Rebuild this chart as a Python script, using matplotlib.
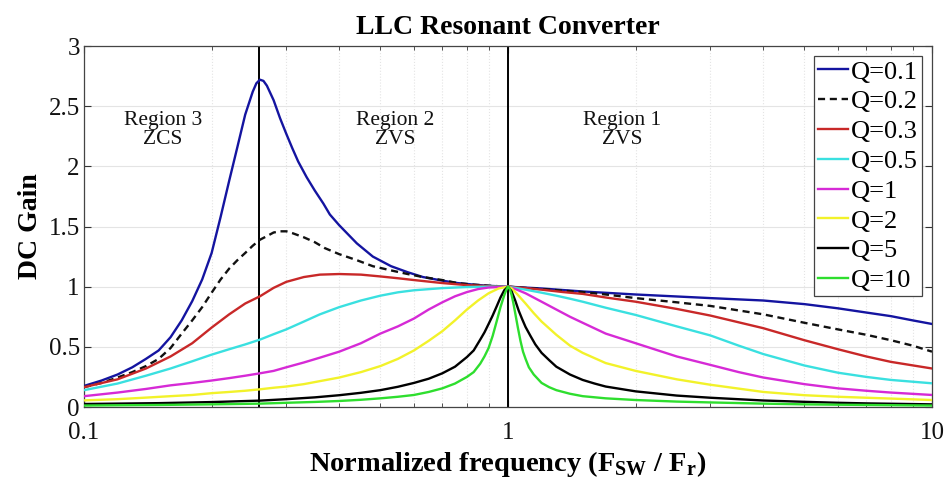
import matplotlib
matplotlib.use("Agg")
import matplotlib.pyplot as plt
from matplotlib.ticker import NullFormatter, LogLocator

plt.rcParams['font.family'] = ['Liberation Serif', 'DejaVu Serif']
plt.rcParams['mathtext.fontset'] = 'custom'
plt.rcParams['mathtext.rm'] = 'Liberation Serif'
plt.rcParams['mathtext.bf'] = 'Liberation Serif:bold'

# ---- data ----
f_q01 = [0.10, 0.11, 0.12, 0.13, 0.14, 0.15, 0.16, 0.17, 0.18, 0.19,
         0.20, 0.21, 0.22, 0.23, 0.24, 0.25, 0.255, 0.26, 0.265, 0.27,
         0.28, 0.29, 0.30, 0.31, 0.32, 0.335, 0.35, 0.367, 0.38, 0.40,
         0.44, 0.48, 0.53, 0.58, 0.63, 0.70, 0.76, 0.83, 0.90, 1.0,
         1.2, 1.5, 2.0, 3.0, 4.0, 5.0, 6.0, 7.0, 8.0, 9.0, 10.0]
g_q01 = [0.175, 0.22, 0.27, 0.33, 0.40, 0.47, 0.58, 0.72, 0.88, 1.06,
         1.28, 1.58, 1.88, 2.16, 2.43, 2.62, 2.69, 2.72, 2.71, 2.67,
         2.55, 2.40, 2.27, 2.15, 2.04, 1.91, 1.80, 1.69, 1.60, 1.51,
         1.36, 1.25, 1.17, 1.12, 1.08, 1.05, 1.03, 1.017, 1.007, 1.0,
         0.985, 0.96, 0.935, 0.905, 0.885, 0.855, 0.82, 0.785, 0.755, 0.72, 0.69]

f_q02 = [0.10, 0.11, 0.12, 0.13, 0.14, 0.15, 0.16, 0.17, 0.18, 0.19,
         0.20, 0.21, 0.22, 0.23, 0.24, 0.25, 0.26, 0.27, 0.28, 0.29,
         0.30, 0.31, 0.33, 0.35, 0.37, 0.40, 0.44, 0.48, 0.53, 0.58,
         0.63, 0.70, 0.76, 0.82, 0.90, 1.0,
         1.2, 1.5, 1.7, 2.0, 2.5, 3.0, 4.0, 5.0, 6.0, 7.0, 8.0, 9.0, 10.0]
g_q02 = [0.165, 0.20, 0.245, 0.29, 0.34, 0.40, 0.49, 0.61, 0.72, 0.83,
         0.95, 1.06, 1.15, 1.22, 1.28, 1.34, 1.39, 1.42, 1.45, 1.46,
         1.46, 1.445, 1.41, 1.37, 1.32, 1.27, 1.22, 1.17, 1.135, 1.105,
         1.08, 1.055, 1.03, 1.018, 1.008, 1.0,
         0.98, 0.955, 0.935, 0.905, 0.87, 0.84, 0.77, 0.70, 0.645, 0.60, 0.555, 0.51, 0.46]

f_q03 = [0.10, 0.12, 0.14, 0.16, 0.18, 0.20, 0.22, 0.24, 0.26, 0.28,
         0.30, 0.33, 0.36, 0.40, 0.45, 0.50, 0.55, 0.60, 0.70, 0.80,
         0.90, 1.0, 1.1, 1.2, 1.35, 1.5, 1.7, 2.0, 2.5, 3.0,
         4.0, 5.0, 6.0, 7.0, 8.0, 10.0]
g_q03 = [0.165, 0.23, 0.32, 0.42, 0.53, 0.66, 0.77, 0.86, 0.92, 0.99,
         1.04, 1.08, 1.10, 1.105, 1.10, 1.085, 1.07, 1.055, 1.03, 1.013,
         1.004, 1.0, 0.988, 0.975, 0.955, 0.94, 0.91, 0.875, 0.815, 0.76,
         0.655, 0.555, 0.48, 0.42, 0.375, 0.32]

f_q05 = [0.10, 0.12, 0.14, 0.16, 0.18, 0.20, 0.22, 0.24, 0.26, 0.28,
         0.30, 0.33, 0.36, 0.40, 0.45, 0.50, 0.55, 0.60, 0.70, 0.80,
         0.90, 1.0, 1.1, 1.2, 1.3, 1.4, 1.5, 1.7, 2.0, 2.5,
         3.0, 3.5, 4.0, 5.0, 6.0, 7.0, 8.0, 10.0]
g_q05 = [0.14, 0.195, 0.26, 0.32, 0.38, 0.435, 0.48, 0.52, 0.56, 0.605,
         0.645, 0.71, 0.77, 0.83, 0.885, 0.925, 0.953, 0.97, 0.988, 0.997,
         1.0, 1.0, 0.975, 0.95, 0.925, 0.90, 0.875, 0.825, 0.765, 0.67,
         0.595, 0.51, 0.44, 0.345, 0.285, 0.25, 0.225, 0.197]

f_q1 = [0.10, 0.12, 0.14, 0.16, 0.18, 0.20, 0.22, 0.24, 0.26, 0.28,
        0.30, 0.33, 0.36, 0.40, 0.45, 0.50, 0.55, 0.60, 0.65, 0.70,
        0.75, 0.80, 0.85, 0.90, 1.0, 1.05, 1.1, 1.2, 1.3, 1.4,
        1.5, 1.7, 2.0, 2.5, 3.0, 3.5, 4.0, 5.0, 6.0, 7.0, 8.0, 10.0]
g_q1 = [0.09, 0.12, 0.15, 0.18, 0.20, 0.22, 0.24, 0.26, 0.28, 0.30,
        0.33, 0.37, 0.41, 0.46, 0.53, 0.61, 0.67, 0.735, 0.81, 0.87,
        0.92, 0.955, 0.98, 0.993, 1.0, 0.975, 0.945, 0.875, 0.81, 0.75,
        0.70, 0.61, 0.53, 0.42, 0.35, 0.29, 0.245, 0.19, 0.155, 0.135, 0.12, 0.10]

f_q2 = [0.10, 0.12, 0.14, 0.16, 0.18, 0.20, 0.22, 0.24, 0.26, 0.28,
        0.30, 0.33, 0.36, 0.40, 0.45, 0.50, 0.55, 0.60, 0.65, 0.70,
        0.75, 0.80, 0.85, 0.90, 0.95, 1.0, 1.02, 1.05, 1.1, 1.15,
        1.2, 1.3, 1.4, 1.5, 1.7, 2.0, 2.5, 3.0, 4.0, 5.0,
        6.0, 7.0, 8.0, 10.0]
g_q2 = [0.055, 0.065, 0.078, 0.09, 0.10, 0.115, 0.125, 0.135, 0.147, 0.16,
        0.17, 0.19, 0.215, 0.245, 0.29, 0.34, 0.40, 0.47, 0.55, 0.63,
        0.72, 0.81, 0.885, 0.945, 0.985, 1.0, 0.985, 0.94, 0.86, 0.78,
        0.71, 0.60, 0.51, 0.45, 0.365, 0.30, 0.23, 0.185, 0.125, 0.098,
        0.085, 0.077, 0.07, 0.058]

f_q5 = [0.10, 0.15, 0.20, 0.26, 0.30, 0.35, 0.40, 0.45, 0.50, 0.55,
        0.60, 0.65, 0.70, 0.75, 0.80, 0.83, 0.86, 0.88, 0.90, 0.92,
        0.94, 0.96, 0.98, 1.0, 1.02, 1.04, 1.06, 1.08, 1.1, 1.13,
        1.16, 1.2, 1.25, 1.3, 1.4, 1.5, 1.6, 1.7, 2.0, 2.5,
        3.0, 4.0, 5.0, 6.0, 7.0, 8.0, 10.0]
g_q5 = [0.025, 0.032, 0.041, 0.053, 0.065, 0.08, 0.098, 0.118, 0.14, 0.168,
        0.20, 0.235, 0.28, 0.335, 0.415, 0.47, 0.56, 0.62, 0.69, 0.76,
        0.835, 0.91, 0.97, 1.0, 0.96, 0.885, 0.80, 0.73, 0.665, 0.59,
        0.52, 0.45, 0.39, 0.335, 0.27, 0.225, 0.195, 0.17, 0.13, 0.095,
        0.077, 0.054, 0.043, 0.035, 0.03, 0.027, 0.022]

f_q10 = [0.10, 0.15, 0.20, 0.26, 0.30, 0.35, 0.40, 0.45, 0.50, 0.55,
         0.60, 0.65, 0.70, 0.75, 0.80, 0.83, 0.86, 0.88, 0.90, 0.92,
         0.94, 0.96, 0.98, 0.99, 1.0, 1.01, 1.02, 1.03, 1.04, 1.055,
         1.07, 1.085, 1.1, 1.12, 1.15, 1.2, 1.25, 1.3, 1.4, 1.5,
         1.7, 2.0, 2.5, 3.0, 4.0, 5.0, 6.0, 7.0, 8.0, 10.0]
g_q10 = [0.012, 0.017, 0.022, 0.028, 0.035, 0.042, 0.05, 0.06, 0.072, 0.085,
         0.10, 0.125, 0.155, 0.195, 0.25, 0.29, 0.36, 0.42, 0.49, 0.59,
         0.71, 0.83, 0.93, 0.97, 1.0, 0.98, 0.93, 0.86, 0.78, 0.66,
         0.55, 0.46, 0.40, 0.33, 0.27, 0.20, 0.165, 0.14, 0.11, 0.09,
         0.072, 0.058, 0.045, 0.038, 0.028, 0.022, 0.019, 0.017, 0.015, 0.012]

labels = ['Q=0.1', 'Q=0.2', 'Q=0.3', 'Q=0.5', 'Q=1', 'Q=2', 'Q=5', 'Q=10']
freqs = [f_q01, f_q02, f_q03, f_q05, f_q1, f_q2, f_q5, f_q10]
gains = [g_q01, g_q02, g_q03, g_q05, g_q1, g_q2, g_q5, g_q10]
colors = ['#1414a0', '#111111', '#c82828', '#3ae0e0', '#d62ad6', '#f2f22a', '#000000', '#2ede2e']
styles = ['-', (0, (3, 2)), '-', '-', '-', '-', '-', '-']

boundaries = [0.258, 1.0]
region_x = [0.1536, 0.5414, 1.857]
region_text = ['Region 3\nZCS', 'Region 2\nZVS', 'Region 1\nZVS']
yticks = [0, 0.5, 1, 1.5, 2, 2.5, 3]
yticklabels = ['0', '0.5', '1', '1.5', '2', '2.5', '3']
xticks = [0.1, 1, 10]
xticklabels = ['0.1', '1', '10']

fig = plt.figure(figsize=(9.51, 4.86), dpi=100)
ax = fig.add_axes([84/951, 1-407/486, (932-84)/951, (407-46)/486])
ax.set_xscale('log')
ax.set_xlim(0.1, 10)
ax.set_ylim(0, 3)

for b in boundaries:
    ax.axvline(b, color='black', lw=1.4, zorder=2)

for fx, gy, lab, c, ls in zip(freqs, gains, labels, colors, styles):
    ax.plot(fx, gy, color=c, lw=1.7, linestyle=ls, label=lab, zorder=3,
            solid_joinstyle='round')

for x, t in zip(region_x, region_text):
    ax.text(x, 2.30, t, ha='center', va='center', fontsize=15.5, linespacing=1.0,
            color='#111111')

ax.set_xticks(xticks)
ax.set_xticklabels(xticklabels)
ax.xaxis.set_minor_locator(LogLocator(base=10, subs=[2, 3, 4, 5, 6, 7, 8, 9]))
ax.xaxis.set_minor_formatter(NullFormatter())
ax.set_yticks(yticks)
ax.set_yticklabels(yticklabels)

ax.tick_params(which='both', direction='in', top=True, right=True, colors='#333333',
               labelcolor='#111111')
ax.tick_params(which='major', length=5, width=0.8, labelsize=18)
ax.tick_params(which='minor', length=3, width=0.6)
ax.tick_params(axis='x', which='major', pad=10.5)
ax.tick_params(axis='y', which='major', pad=3)

ax.grid(True, which='major', color='#e4e4e4', lw=0.8, ls='-', zorder=0)
ax.grid(True, which='minor', axis='x', color='#e4e4e4', lw=0.8, ls=':', zorder=0)
ax.set_axisbelow(True)
for sp in ax.spines.values():
    sp.set_color('#444444')
    sp.set_linewidth(0.9)

ax.set_title('LLC Resonant Converter', fontsize=20, fontweight='bold', pad=9)
ax.set_ylabel('DC Gain', fontsize=20, fontweight='bold', labelpad=4)
ax.set_xlabel(r'Normalized frequency (F$_{\mathbf{SW}}$ / F$_{\mathbf{r}}$)',
              fontsize=20.5, fontweight='bold', labelpad=4)

leg = ax.legend(loc='upper right', bbox_to_anchor=(0.988, 0.972), borderaxespad=0,
                fontsize=19, frameon=True, fancybox=False, edgecolor='#444444',
                framealpha=1, handlelength=1.14, handletextpad=0.1,
                labelspacing=0.24, borderpad=0.15)
leg.get_frame().set_linewidth(0.9)

fig.savefig('out.png', dpi=100)
